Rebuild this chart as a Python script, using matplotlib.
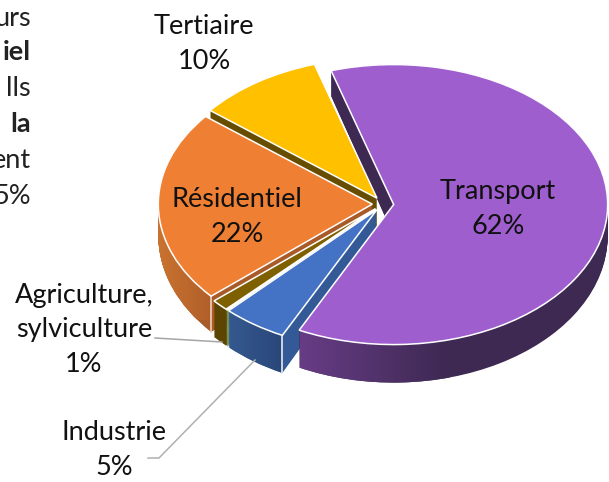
import numpy as np
import matplotlib
matplotlib.use("Agg")
import matplotlib.pyplot as plt
from matplotlib.colors import to_rgb
from matplotlib.patches import PathPatch
from matplotlib.path import Path
from matplotlib.transforms import Affine2D

plt.rcParams['font.family'] = ['Lato', 'DejaVu Sans']

categories = ['Transport', 'Industrie', '', 'Agriculture,\nsylviculture', 'Résidentiel', 'Tertiaire']
values = [62, 4.9, 0.1, 1.3, 22.2, 9.5]

top_colors = ['#9e5ece', '#4472c4', '#a9d18e', '#7f6000', '#ef7f33', '#ffc000']
side_colors = ['#3d2952', '#335a96', '#7c9a60', '#5c4500', '#a85a28', '#664d00']

# pixel geometry of the tilted pie
cx, cy = 383, 204
rx, ry = 214, 140
depth = 31.5
stretch = 6.5 / 140


def tilt(t):
    return Affine2D().scale(rx, -ry * (1 + t * stretch)).translate(cx, cy + t * depth)


fig = plt.figure(figsize=(6.09, 4.82), dpi=100)
ax = fig.add_axes([0, 0, 1, 1])


def draw_layer(t, colors, edge=None, lw=0, z=1):
    wedges, _ = ax.pie(values, colors=colors, startangle=107, counterclock=False,
                       explode=[0.05] * len(values), radius=1,
                       wedgeprops=dict(edgecolor=edge, linewidth=lw))
    for w in wedges:
        w.set_transform(tilt(t) + ax.transData)
        w.set_zorder(z)
    return wedges


# extrude the sides, bottom layer first
layers = np.linspace(1, 0, 39)
paths = [[] for _ in values]
for n, t in enumerate(layers):
    for i, w in enumerate(draw_layer(t, side_colors, edge='none', z=1 + n * 0.01)):
        paths[i].append(w.get_path().transformed(tilt(t)))

# lighter to darker shading on the front walls
gradients = [
    (0, (300, 450, 320, 390), '#673c85', '#3d2952'),
    (1, (230, 283, 300, 380), '#34598f', '#2a4679'),
    (4, (155, 212, 200, 320), '#cb7430', '#b15f2a'),
]
for i, (x0, x1, y0, y1), c0, c1 in gradients:
    ramp = np.linspace(to_rgb(c0), to_rgb(c1), 64)[None, :, :]
    im = ax.imshow(ramp, extent=(x0, x1, y1, y0), aspect='auto', zorder=2)
    clip = PathPatch(Path.make_compound_path(*paths[i]), transform=ax.transData)
    im.set_clip_path(clip)

# pale lines on the visible front corners
for w_i, col in [(1, '#e8edf5'), (4, '#f0d0b8')]:
    w = draw_layer(0, top_colors, edge='none', z=0)[w_i]
    ang = np.deg2rad(w.theta2)
    corner = w.center[0] + np.cos(ang), w.center[1] + np.sin(ang)
    p0 = tilt(0).transform(corner)
    p1 = tilt(1).transform(corner)
    ax.plot([p0[0], p1[0]], [p0[1], p1[1]], color=col, lw=1.2, zorder=3)

draw_layer(0, top_colors, edge='white', lw=1.1, z=4)

ax.set_aspect('auto')
ax.set_xlim(0, 609)
ax.set_ylim(482, 0)
ax.axis('off')

# leader lines
ax.plot([155, 222], [338, 342], color='#a6a6a6', lw=1.1, zorder=3)
ax.plot([148, 159, 255], [458, 458, 360], color='#b0b0b0', lw=1.1, zorder=3)

# labels
label_pos = {0: (498, 209), 1: (114, 450), 3: (84, 330), 4: (237, 217), 5: (204, 44)}
for i, (x, y) in label_pos.items():
    ax.text(x, y, f"{categories[i]}\n{round(values[i])}%", ha='center', va='center',
            fontsize=19.5, linespacing=1.5, color='#111111', zorder=6)

# cut-off paragraph on the left edge
side_text = [('urs', 'normal', 18), ('iel', 'bold', 52), ('lls', 'normal', 89),
             ('la', 'bold', 124), ('ent', 'normal', 160), ('5%', 'normal', 197)]
for s, wt, y in side_text:
    ax.text(31, y, s, ha='right', va='center', fontsize=19.5, fontweight=wt,
            color='#222222', zorder=6)

fig.savefig('out.png', dpi=100)
